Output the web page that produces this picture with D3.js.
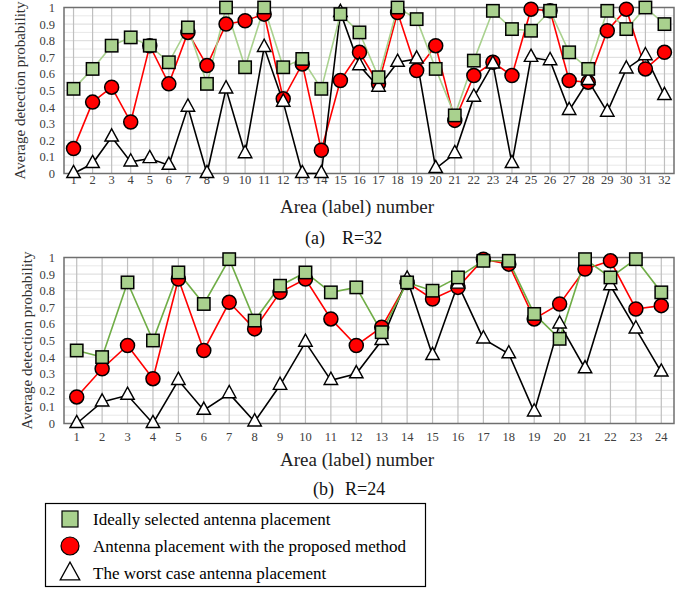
<!DOCTYPE html>
<html><head><meta charset="utf-8">
<script src="https://cdn.jsdelivr.net/npm/d3@7"></script>
<style>body{margin:0;background:#fff}svg{display:block}svg text{font-family:"Liberation Serif","Times New Roman",serif}</style>
</head><body>
<svg id="c" width="694" height="591"></svg>
<script>
const areasA = [1,2,3,4,5,6,7,8,9,10,11,12,13,14,15,16,17,18,19,20,21,22,23,24,25,26,27,28,29,30,31,32];
const idealA = [0.51,0.63,0.77,0.82,0.77,0.67,0.88,0.54,1.00,0.64,1.00,0.64,0.69,0.51,0.96,0.85,0.58,1.00,0.93,0.63,0.35,0.68,0.98,0.87,0.86,0.98,0.73,0.63,0.98,0.87,1.00,0.90];
const proposedA = [0.15,0.43,0.52,0.31,0.77,0.54,0.85,0.65,0.90,0.92,0.96,0.45,0.66,0.14,0.56,0.73,0.54,0.97,0.62,0.77,0.32,0.59,0.67,0.59,0.99,0.98,0.56,0.55,0.86,0.99,0.63,0.73];
const worstA = [0.00,0.06,0.22,0.07,0.09,0.05,0.40,0.00,0.51,0.12,0.76,0.43,0.00,0.00,0.97,0.65,0.52,0.67,0.69,0.03,0.12,0.46,0.66,0.06,0.70,0.68,0.38,0.56,0.37,0.63,0.71,0.47];

const areasB = [1,2,3,4,5,6,7,8,9,10,11,12,13,14,15,16,17,18,19,20,21,22,23,24];
const idealB = [0.44,0.40,0.85,0.50,0.91,0.72,0.99,0.62,0.83,0.91,0.79,0.82,0.55,0.85,0.80,0.88,0.98,0.98,0.66,0.51,0.99,0.88,0.99,0.79];
const proposedB = [0.16,0.33,0.47,0.27,0.87,0.44,0.73,0.57,0.79,0.87,0.63,0.47,0.58,0.85,0.75,0.82,0.99,0.96,0.63,0.72,0.93,0.98,0.69,0.71];
const worstB = [0.00,0.13,0.17,0.00,0.26,0.08,0.18,0.01,0.23,0.49,0.26,0.30,0.50,0.87,0.41,0.84,0.51,0.42,0.07,0.60,0.33,0.83,0.57,0.31];

const yTicks = [0,0.1,0.2,0.3,0.4,0.5,0.6,0.7,0.8,0.9,1];
const yMinor = [0.05,0.15,0.25,0.35,0.45,0.55,0.65,0.75,0.85,0.95];
const captionParts = [["(a)","R=32"],["(b)","R=24"]];
const legendLabels = ["Ideally selected antenna placement","Antenna placement with the proposed method","The worst case antenna placement"];

const FONT = "Liberation Serif, Times New Roman, serif";
const svg = d3.select("#c");
const GREEN_FILL = "#a9d18e";

function drawChart(cfg){
  const {areas, ideal, proposed, worst, top, bottom, left, right, greenLine, yLabelX, caption, capX, captionY, xTitleY, tickY} = cfg;
  const g = svg.append("g");
  const x = d3.scaleBand().domain(areas).range([left, right]);
  const y = d3.scaleLinear().domain([0,1]).range([bottom, top]);
  const cx = d => x(d) + x.bandwidth()/2;
  g.selectAll(".hm").data(yMinor).join("line")
    .attr("x1", left).attr("x2", right).attr("y1", d=>y(d)).attr("y2", d=>y(d))
    .attr("stroke", "#e8e8e8").attr("stroke-width", 1);
  g.selectAll(".hM").data(yTicks).join("line")
    .attr("x1", left).attr("x2", right).attr("y1", d=>y(d)).attr("y2", d=>y(d))
    .attr("stroke", "#d9d9d9").attr("stroke-width", 1);
  g.selectAll(".v").data(areas).join("line")
    .attr("x1", cx).attr("x2", cx).attr("y1", top).attr("y2", bottom)
    .attr("stroke", "#bfbfbf").attr("stroke-width", 1.2);
  g.append("rect").attr("x", left).attr("y", top).attr("width", right-left).attr("height", bottom-top)
    .attr("fill", "none").attr("stroke", "#6f6f6f").attr("stroke-width", 1.5);
  const yAxis = d3.axisLeft(y).tickValues(yTicks).tickSize(0).tickPadding(9).tickFormat(d3.format("~g"));
  const ya = g.append("g").attr("transform", `translate(${left},0)`).call(yAxis)
    .attr("font-family", FONT).attr("font-size", 12.5);
  ya.select(".domain").remove();
  ya.selectAll("text").attr("fill", "#404040");
  const xAxis = d3.axisBottom(x).tickSize(0).tickPadding(0);
  const xa = g.append("g").attr("transform", `translate(0,${tickY})`).call(xAxis)
    .attr("font-family", FONT).attr("font-size", 12.5);
  xa.select(".domain").remove();
  xa.selectAll("text").attr("fill", "#404040").attr("dy", "0.71em");
  g.append("text").attr("transform", `translate(${yLabelX},${(top+bottom)/2}) rotate(-90)`)
    .attr("font-family", FONT).attr("font-size", 15).attr("fill", "#333")
    .attr("text-anchor", "middle").attr("dy", "0.35em").text("Average detection probability");
  g.append("text").attr("x", 357).attr("y", xTitleY).attr("text-anchor", "middle")
    .attr("font-family", FONT).attr("font-size", 19).attr("fill", "#222").text("Area (label) number");
  g.append("text").attr("x", capX[0]).attr("y", captionY).attr("font-family", FONT).attr("font-size", 18).attr("fill", "#111").text(caption[0]);
  g.append("text").attr("x", capX[1]).attr("y", captionY).attr("font-family", FONT).attr("font-size", 18).attr("fill", "#111").text(caption[1]);
  const line = d3.line().x((d,i)=>cx(areas[i])).y(d=>y(d));
  g.append("path").attr("d", line(proposed)).attr("fill","none").attr("stroke","#ff0000").attr("stroke-width",1.6);
  g.append("path").attr("d", line(worst)).attr("fill","none").attr("stroke","#000").attr("stroke-width",1.6);
  g.append("path").attr("d", line(ideal)).attr("fill","none").attr("stroke",greenLine).attr("stroke-width",1.6);
  g.selectAll(".cir").data(proposed).join("circle")
    .attr("cx", (d,i)=>cx(areas[i])).attr("cy", d=>y(d)).attr("r", 7)
    .attr("fill", "#ff0000").attr("stroke", "#000").attr("stroke-width", 1.5);
  const tri = d3.symbol().type(d3.symbolTriangle).size(78);
  g.selectAll(".tri").data(worst).join("path")
    .attr("d", tri).attr("transform", (d,i)=>`translate(${cx(areas[i])},${y(d)}) scale(1,1.05)`)
    .attr("fill", "#fff").attr("stroke", "#000").attr("stroke-width", 1.4);
  g.selectAll(".sq").data(ideal).join("rect")
    .attr("x", (d,i)=>cx(areas[i])-6.2).attr("y", d=>y(d)-6.2).attr("width", 12.4).attr("height", 12.4)
    .attr("fill", GREEN_FILL).attr("stroke", "#000").attr("stroke-width", 1.5);
}

drawChart({areas: areasA, ideal: idealA, proposed: proposedA, worst: worstA,
  top: 7.5, bottom: 173.5, left: 64, right: 674, greenLine: "#a9d18e", yLabelX: 20,
  caption: captionParts[0], capX: [305, 342], captionY: 244, xTitleY: 213, tickY: 175});
drawChart({areas: areasB, ideal: idealB, proposed: proposedB, worst: worstB,
  top: 257.5, bottom: 423.5, left: 64, right: 674, greenLine: "#70ad47", yLabelX: 27,
  caption: captionParts[1], capX: [313, 345], captionY: 495, xTitleY: 466, tickY: 432});

const lg = svg.append("g");
lg.append("rect").attr("x", 45.5).attr("y", 503.5).attr("width", 380).attr("height", 83)
  .attr("fill", "#fff").attr("stroke", "#000").attr("stroke-width", 1.2);
const ly = [519, 546, 573];
lg.append("rect").attr("x", 62).attr("y", ly[0]-8).attr("width", 16).attr("height", 16)
  .attr("fill", GREEN_FILL).attr("stroke", "#000").attr("stroke-width", 1.2);
lg.append("circle").attr("cx", 70).attr("cy", ly[1]).attr("r", 9)
  .attr("fill", "#ff0000").attr("stroke", "#000").attr("stroke-width", 1.2);
lg.append("path").attr("d", d3.symbol().type(d3.symbolTriangle).size(150)).attr("transform", `translate(70,${ly[2]+1}) scale(1.05,1.1)`)
  .attr("fill", "#fff").attr("stroke", "#000").attr("stroke-width", 1.2);
lg.selectAll(".lt").data(legendLabels).join("text")
  .attr("x", 93).attr("y", (d,i)=>ly[i]).attr("dy", "0.35em")
  .attr("font-family", FONT).attr("font-size", 17).attr("fill","#000").text(d=>d);
</script>
</body></html>
